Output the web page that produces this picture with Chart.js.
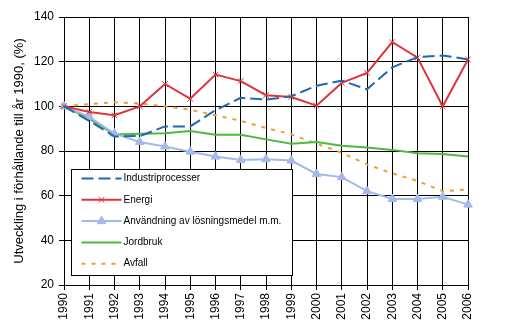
<!DOCTYPE html>
<html>
<head>
<meta charset="utf-8">
<script src="https://cdn.jsdelivr.net/npm/chart.js@4/dist/chart.umd.min.js"></script>
<style>
  html, body { margin: 0; padding: 0; background: #fff; }
  #wrap { width: 508px; height: 336px; }
</style>
</head>
<body>
<div id="wrap"><canvas id="chart" width="508" height="336"></canvas></div>
<script>
// Data (index, 1990 = 100)
const years = ['1990', '1991', '1992', '1993', '1994', '1995', '1996', '1997', '1998',
    '1999', '2000', '2001', '2002', '2003', '2004', '2005', '2006'];
const industriprocesser = [100, 93.5, 86.5, 86.7, 91, 91, 98.3, 103.8, 103, 104.5, 109.2, 111.5, 107.6, 117.5, 122, 122.8, 121];
const energi = [100, 97.5, 96, 100, 110, 103.4, 114.2, 111.3, 105, 104.2, 100.3, 110.5, 115, 128.8, 121.8, 100, 121];
const losningsmedel = [100, 95.3, 87.8, 84, 82, 79.7, 77.5, 76, 76.3, 75.7, 69.7, 68.3, 62, 58.5, 58.5, 59.5, 56];
const jordbruk = [100, 94.5, 87.4, 87.7, 88, 89, 87.3, 87.3, 85.2, 83.3, 84, 82.4, 81.6, 80.5, 79, 78.7, 77.5];
const avfall = [100, 101, 101.8, 101.3, 100, 98.5, 96, 93.5, 90.3, 87.5, 83.3, 79.2, 74, 70, 66.6, 62, 62.8];
const yTicks = [20, 40, 60, 80, 100, 120, 140];

const FONT = '"Liberation Sans", Arial, sans-serif';

// legend drawn inside the plot, like the original
const boxLegend = {
    id: 'boxLegend',
    afterDatasetsDraw(chart) {
        const ctx = chart.ctx;
        const area = chart.chartArea;
        const bx = Math.round(area.left + 7) + 0.5;
        const by = 169.5;
        const bw = 221, bh = 106;

        ctx.save();
        ctx.fillStyle = '#fff';
        ctx.fillRect(bx, by, bw, bh);
        ctx.strokeStyle = '#000';
        ctx.lineWidth = 1;
        ctx.setLineDash([]);
        ctx.strokeRect(bx, by, bw, bh);

        chart.data.datasets.forEach((ds, i) => {
            const ly = by + 9 + i * 21.3;
            const x0 = bx + 10, x1 = bx + 50;

            ctx.strokeStyle = ds.borderColor;
            ctx.lineWidth = ds.borderWidth;
            ctx.setLineDash(ds.borderDash || []);
            ctx.beginPath();
            ctx.moveTo(x0, ly);
            ctx.lineTo(x1, ly);
            ctx.stroke();
            ctx.setLineDash([]);

            if (ds.pointRadius > 0) {
                ctx.fillStyle = ds.pointBackgroundColor;
                ctx.strokeStyle = ds.pointBorderColor;
                ctx.lineWidth = ds.pointBorderWidth;
                Chart.helpers.drawPoint(ctx, {
                    pointStyle: ds.pointStyle,
                    radius: ds.pointRadius,
                    rotation: 0,
                    borderWidth: ds.pointBorderWidth
                }, (x0 + x1) / 2, ly);
            }

            ctx.fillStyle = '#000';
            ctx.font = '10px ' + FONT;
            ctx.textBaseline = 'middle';
            ctx.textAlign = 'left';
            ctx.fillText(ds.label, x1 + 2, ly);
        });
        ctx.restore();
    }
};

new Chart(document.getElementById('chart'), {
    type: 'line',
    data: {
        labels: years,
        datasets: [
            {
                label: 'Industriprocesser',
                data: industriprocesser,
                borderColor: '#1f69b3',
                borderWidth: 2,
                borderDash: [12, 5],
                pointRadius: 0,
                tension: 0
            },
            {
                label: 'Energi',
                data: energi,
                borderColor: '#e0343c',
                borderWidth: 2,
                pointStyle: 'crossRot',
                pointRadius: 4,
                pointBorderWidth: 1,
                pointBorderColor: '#e0343c',
                pointBackgroundColor: '#e0343c',
                tension: 0
            },
            {
                label: 'Användning av lösningsmedel m.m.',
                data: losningsmedel,
                borderColor: '#a4b8ea',
                borderWidth: 2,
                pointStyle: 'triangle',
                pointRadius: 5,
                pointBorderWidth: 1,
                pointBorderColor: '#a4b8ea',
                pointBackgroundColor: '#a4b8ea',
                tension: 0
            },
            {
                label: 'Jordbruk',
                data: jordbruk,
                borderColor: '#4cba3c',
                borderWidth: 2,
                pointRadius: 0,
                tension: 0
            },
            {
                label: 'Avfall',
                data: avfall,
                borderColor: '#f49c34',
                borderWidth: 2,
                borderDash: [4, 6],
                pointRadius: 0,
                tension: 0
            }
        ]
    },
    options: {
        responsive: false,
        animation: false,
        layout: { padding: { top: 17, right: 40, bottom: 0, left: 0 } },
        plugins: {
            legend: { display: false },
            tooltip: { enabled: false }
        },
        scales: {
            x: {
                offset: false,
                grid: { color: '#000', lineWidth: 1, tickLength: 5, offset: false },
                border: { color: '#000' },
                ticks: {
                    color: '#000',
                    font: { family: FONT, size: 12 },
                    minRotation: 90,
                    maxRotation: 90,
                    autoSkip: false,
                    padding: 3
                },
                afterFit: (scale) => { scale.height = 51; }
            },
            y: {
                min: 20,
                max: 140,
                afterBuildTicks: (scale) => { scale.ticks = yTicks.map(v => ({ value: v })); },
                grid: { color: '#000', lineWidth: 1, tickLength: 5 },
                border: { color: '#000' },
                ticks: {
                    color: '#000',
                    font: { family: FONT, size: 12 },
                    padding: 5
                },
                title: {
                    display: true,
                    text: 'Utveckling i förhållande till år 1990, (%)',
                    color: '#000',
                    font: { family: FONT, size: 13 },
                    padding: { top: 12, bottom: 0 }
                },
                afterFit: (scale) => { scale.width = 64; }
            }
        }
    },
    plugins: [boxLegend]
});
</script>
</body>
</html>
